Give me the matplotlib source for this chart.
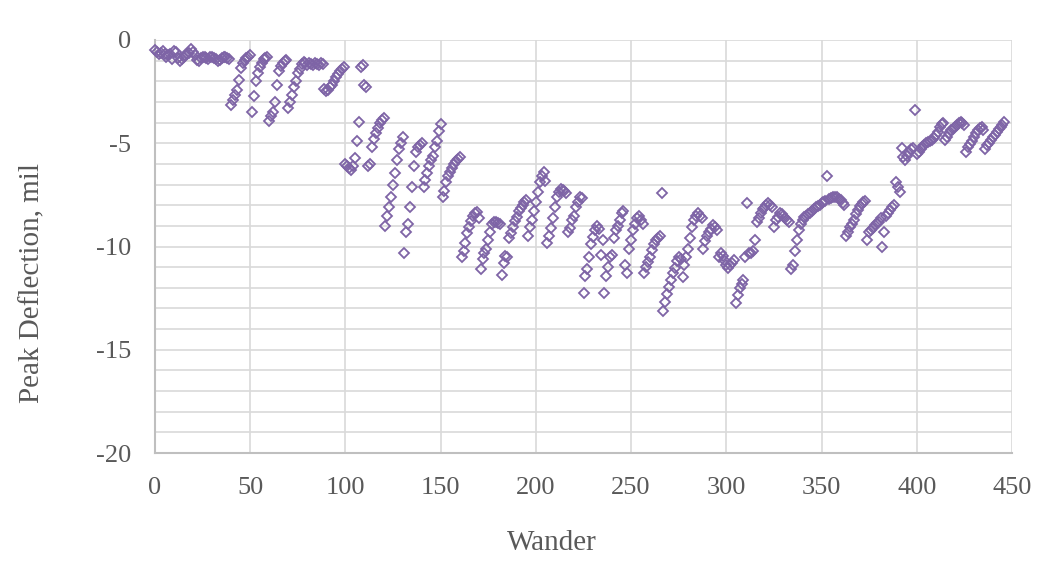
import matplotlib.pyplot as plt
import numpy as np
from matplotlib.ticker import MultipleLocator

# peak deflection (mil) for each wander position, x = 0, 1, 2, ...
defl_000_099 = [
    -0.5, -0.6, -0.7, -0.65, -0.55, -0.7, -0.8, -0.75, -0.7, -0.9,
    -0.55, -0.6, -0.85, -1.0, -0.9, -0.8, -0.75, -0.7, -0.65, -0.45,
    -0.6, -0.75, -0.95, -1.0, -0.85, -0.8, -0.8, -0.85, -0.9, -0.8,
    -0.8, -0.85, -0.9, -1.0, -0.95, -0.85, -0.8, -0.8, -0.85, -0.9,
    -3.15, -2.9, -2.65, -2.4, -1.95, -1.35, -1.1, -0.95, -0.85, -0.8,
    -0.75, -3.5, -2.7, -2.0, -1.6, -1.3, -1.1, -0.9, -0.85, -0.8,
    -3.9, -3.7, -3.5, -3.0, -2.2, -1.5, -1.25, -1.1, -1.0, -0.95,
    -3.3, -3.0, -2.65, -2.3, -2.0, -1.6, -1.4, -1.15, -1.05, -1.1,
    -1.2, -1.1, -1.15, -1.2, -1.1, -1.15, -1.2, -1.1, -1.15, -2.35,
    -2.45, -2.4, -2.3, -2.2, -2.0, -1.8, -1.65, -1.5, -1.4, -1.3,
]
defl_100_199 = [
    -6.0, -6.1, -6.2, -6.3, -6.1, -5.7, -4.9, -3.95, -1.3, -1.2,
    -2.2, -2.3, -6.1, -6.0, -5.2, -4.8, -4.5, -4.25, -4.0, -3.85,
    -3.8, -9.0, -8.5, -8.1, -7.6, -7.0, -6.45, -5.8, -5.3, -5.0,
    -4.7, -10.3, -9.3, -8.9, -8.1, -7.1, -6.1, -5.4, -5.2, -5.1,
    -5.0, -7.1, -6.8, -6.45, -6.1, -5.8, -5.6, -5.2, -4.9, -4.4,
    -4.05, -7.6, -7.3, -6.9, -6.6, -6.4, -6.2, -6.0, -5.85, -5.75,
    -5.65, -10.5, -10.2, -9.85, -9.35, -9.05, -8.75, -8.5, -8.4, -8.35,
    -8.6, -11.1, -10.6, -10.3, -10.1, -9.7, -9.3, -8.9, -8.8, -8.8,
    -8.85, -8.9, -11.4, -10.8, -10.45, -10.5, -9.6, -9.35, -9.05, -8.75,
    -8.55, -8.3, -8.15, -8.0, -7.85, -7.75, -9.5, -9.05, -8.7, -8.3,
]
defl_200_299 = [
    -7.85, -7.35, -6.9, -6.6, -6.4, -6.85, -9.85, -9.5, -9.1, -8.6,
    -8.1, -7.6, -7.35, -7.2, -7.25, -7.3, -7.4, -9.3, -9.1, -8.7,
    -8.5, -8.1, -7.85, -7.6, -7.65, -12.25, -11.45, -11.1, -10.5, -9.9,
    -9.55, -9.2, -9.0, -9.15, -10.4, -9.7, -12.25, -11.45, -11.0, -10.5,
    -10.4, -9.6, -9.2, -9.0, -8.7, -8.4, -8.3, -10.9, -11.3, -10.1,
    -9.7, -9.2, -8.9, -8.6, -8.5, -8.7, -8.9, -11.3, -11.0, -10.75,
    -10.5, -10.15, -9.9, -9.7, -9.6, -9.5, -7.4, -13.1, -12.7, -12.3,
    -11.95, -11.6, -11.3, -11.05, -10.7, -10.5, -10.6, -11.5, -10.9, -10.5,
    -10.1, -9.6, -9.05, -8.7, -8.5, -8.4, -8.5, -8.6, -10.1, -9.75,
    -9.5, -9.3, -9.15, -8.95, -9.05, -9.2, -10.5, -10.3, -10.45, -10.65,
]
defl_300_446 = [
    -10.9, -11.05, -10.9, -10.8, -10.65, -12.75, -12.35, -12.0, -11.8, -11.6,
    -10.5, -7.9, -10.3, -10.3, -10.2, -9.7, -8.8, -8.6, -8.4, -8.2,
    -8.15, -8.0, -7.9, -8.0, -8.1, -9.05, -8.7, -8.55, -8.4, -8.45,
    -8.5, -8.6, -8.7, -8.8, -11.1, -10.9, -10.2, -9.7, -9.2, -8.9,
    -8.7, -8.55, -8.5, -8.45, -8.4, -8.3, -8.2, -8.1, -8.05, -8.0,
    -7.9, -7.85, -7.8, -6.6, -7.7, -7.65, -7.6, -7.6, -7.6, -7.7,
    -7.75, -7.9, -8.0, -9.5, -9.3, -9.05, -8.9, -8.7, -8.45, -8.25,
    -8.05, -7.95, -7.85, -7.8, -9.7, -9.3, -9.2, -9.1, -8.95, -8.85,
    -8.8, -8.6, -10.0, -9.3, -8.5, -8.4, -8.25, -8.1, -8.0, -6.9,
    -7.1, -7.35, -5.25, -5.65, -5.8, -5.6, -5.4, -5.3, -5.25, -3.4,
    -5.5, -5.4, -5.3, -5.2, -5.1, -5.0, -4.95, -4.9, -4.85, -4.75,
    -4.6, -4.45, -4.2, -4.05, -4.0, -4.85, -4.7, -4.5, -4.35, -4.3,
    -4.2, -4.1, -4.0, -3.95, -4.0, -4.1, -5.4, -5.2, -5.05, -4.9,
    -4.7, -4.5, -4.35, -4.25, -4.2, -4.35, -5.3, -5.1, -5.0, -4.85,
    -4.7, -4.6, -4.45, -4.3, -4.2, -4.1, -3.95,
]

deflection = defl_000_099 + defl_100_199 + defl_200_299 + defl_300_446
wander = np.arange(len(deflection))

purple = "#7E64A6"
text_grey = "#595959"
grid_grey = "#D9D9D9"

plt.rcParams["font.family"] = ["Liberation Serif", "DejaVu Serif"]
plt.rcParams["axes.unicode_minus"] = False

fig = plt.figure(figsize=(10.51, 5.76), dpi=100)
ax = fig.add_axes([155 / 1051, 1 - 453 / 576, (1012 - 155) / 1051, (453 - 40) / 576])

ax.plot(wander, deflection, linestyle="none", marker="D", markersize=5.5,
        markerfacecolor="none", markeredgecolor=purple, markeredgewidth=1.3,
        clip_on=False, zorder=3)

ax.set_xlim(0, 450)
ax.set_ylim(-20, 0)
ax.xaxis.set_major_locator(MultipleLocator(50))
ax.yaxis.set_major_locator(MultipleLocator(5))
ax.yaxis.set_minor_locator(MultipleLocator(1))
ax.grid(which="major", axis="x", color=grid_grey, linewidth=1.2)
ax.grid(which="both", axis="y", color=grid_grey, linewidth=1.2)
ax.set_axisbelow(True)
for side in ["top", "right"]:
    ax.spines[side].set_visible(False)
for side in ["left", "bottom"]:
    ax.spines[side].set_color("#BFBFBF")
    ax.spines[side].set_linewidth(1.5)
ax.tick_params(which="both", length=0, labelsize=19, labelcolor=text_grey)
ax.tick_params(axis="x", pad=17)
ax.tick_params(axis="y", pad=17)

fig.text(552 / 1051, 1 - 543 / 576, "Wander", fontsize=21, color=text_grey,
         ha="center", va="center")
fig.text(32 / 1051, 1 - 283 / 576, "Peak Deflection, mil", fontsize=21,
         color=text_grey, ha="center", va="center", rotation=90)

fig.savefig("out.png", dpi=100)
